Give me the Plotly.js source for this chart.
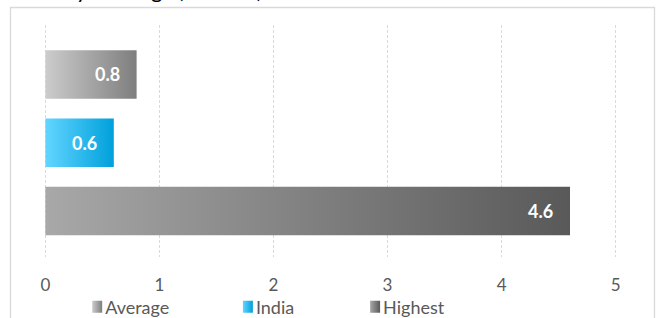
<!DOCTYPE html>
<html><head><meta charset="utf-8">
<script src="https://cdn.plot.ly/plotly-3.0.1.min.js"></script>
<style>html,body{margin:0;padding:0;background:#fff}</style>
</head><body><div id="chart" style="width:662px;height:318px"></div>
<script>
// ---- data ----
const chartTitle = 'Delay in filings (in Years)';
const categories = ['Average', 'India', 'Highest'];
const values = [0.8, 0.6, 4.6];
const valueLabels = ['0.8', '0.6', '4.6'];
const xTicks = [0, 1, 2, 3, 4, 5];
const xTickLabels = ['0', '1', '2', '3', '4', '5'];

// ---- styles ----
const solidColors = ['#a6a6a6', '#2ebbf0', '#808080'];
const gradientStops = [['#cccccc', '#7e7e7e'], ['#62d5ff', '#00a0dc'], ['#a8a8a8', '#595959']];
const legendIds = ['legend', 'legend2', 'legend3'];
const legendX = [0.037, 0.300, 0.522];

const W = 662, H = 318, ML = 44, MR = 45, MT = 25, MB = 61;
const PW = W - ML - MR, PH = H - MT - MB;
const px2x = p => (p - ML) / PW;
const px2y = p => (H - MB - p) / PH;

const traces = categories.map((c, i) => ({
  type: 'bar', orientation: 'h',
  x: [values[i]], y: [c], name: c,
  width: 0.71,
  marker: { color: solidColors[i], line: { width: 0 } },
  legend: legendIds[i],
  hoverinfo: 'skip'
}));

const legendBase = {
  orientation: 'h', yanchor: 'middle', xanchor: 'left',
  font: { family: 'Lato', size: 18, color: '#595959' },
  bgcolor: 'rgba(0,0,0,0)', borderwidth: 0, itemwidth: 30
};
const legends = {};
legendIds.forEach((id, i) => {
  legends[id] = Object.assign({}, legendBase, { x: legendX[i], y: px2y(307) });
});

const annotations = categories.map((c, i) => ({
  x: values[i], y: c, xref: 'x', yref: 'y',
  text: '<b>' + valueLabels[i] + '</b>', showarrow: false,
  xanchor: 'right', xshift: -15,
  font: { family: 'Lato', size: 18, color: '#ffffff' }
}));
annotations.push({
  xref: 'paper', yref: 'paper', x: px2x(30), y: px2y(5),
  xanchor: 'left', yanchor: 'bottom', showarrow: false,
  text: chartTitle, font: { family: 'Lato', size: 22, color: '#000000' }
});

const layout = Object.assign({
  width: W, height: H,
  margin: { l: ML, r: MR, t: MT, b: MB, pad: 0, autoexpand: false },
  paper_bgcolor: '#ffffff', plot_bgcolor: '#ffffff',
  barmode: 'overlay',
  showlegend: true,
  xaxis: {
    range: [-0.012, 5.012], tickvals: xTicks, ticktext: xTickLabels,
    showgrid: true, gridcolor: '#d9d9d9', griddash: '3px,2px', gridwidth: 1,
    zeroline: false, showline: false, ticks: '',
    ticklabelstandoff: 16,
    tickfont: { family: 'Lato', size: 17, color: '#595959' }
  },
  yaxis: {
    type: 'category', categoryorder: 'array', categoryarray: categories,
    range: [2.672, -0.724],
    showticklabels: false, showgrid: false, zeroline: false, showline: false, ticks: ''
  },
  shapes: [{
    type: 'rect', xref: 'paper', yref: 'paper',
    x0: px2x(10.5), x1: px2x(654.5), y0: px2y(340), y1: px2y(7.5),
    line: { color: '#d9d9d9', width: 1.3 }, fillcolor: 'rgba(0,0,0,0)', layer: 'below'
  }],
  annotations: annotations
}, legends);

function applyGradients(gd) {
  const svg = gd.querySelector('svg.main-svg');
  let defs = svg.querySelector('defs');
  if (!defs) { defs = document.createElementNS('http://www.w3.org/2000/svg', 'defs'); svg.insertBefore(defs, svg.firstChild); }
  gradientStops.forEach((st, i) => {
    const lg = document.createElementNS('http://www.w3.org/2000/svg', 'linearGradient');
    lg.setAttribute('id', 'barGrad' + i);
    lg.setAttribute('x1', '0'); lg.setAttribute('y1', '0'); lg.setAttribute('x2', '1'); lg.setAttribute('y2', '0');
    st.forEach((c, k) => {
      const s = document.createElementNS('http://www.w3.org/2000/svg', 'stop');
      s.setAttribute('offset', k === 0 ? '0' : '1');
      s.setAttribute('stop-color', c);
      lg.appendChild(s);
    });
    defs.appendChild(lg);
  });
  gd.querySelectorAll('.barlayer .trace').forEach(t => {
    const d = t.__data__;
    const idx = d && d[0] && d[0].trace ? d[0].trace.index : null;
    if (idx === null) return;
    t.querySelectorAll('path').forEach(p => { p.style.fill = 'url(#barGrad' + idx + ')'; });
  });
  // legend icons: one legend per series
  legendIds.forEach((id, i) => {
    const g = gd.querySelector('g.' + id);
    if (!g) return;
    g.querySelectorAll('.legendpoints path').forEach(p => {
      p.style.fill = 'url(#barGrad' + i + ')';
      const t = p.getAttribute('transform') || '';
      p.setAttribute('transform', t + ' translate(12,0) scale(0.83,1)');
    });
  });
}

Plotly.newPlot('chart', traces, layout, { staticPlot: true, displayModeBar: false })
  .then(gd => { applyGradients(gd); });
</script>
</body></html>
